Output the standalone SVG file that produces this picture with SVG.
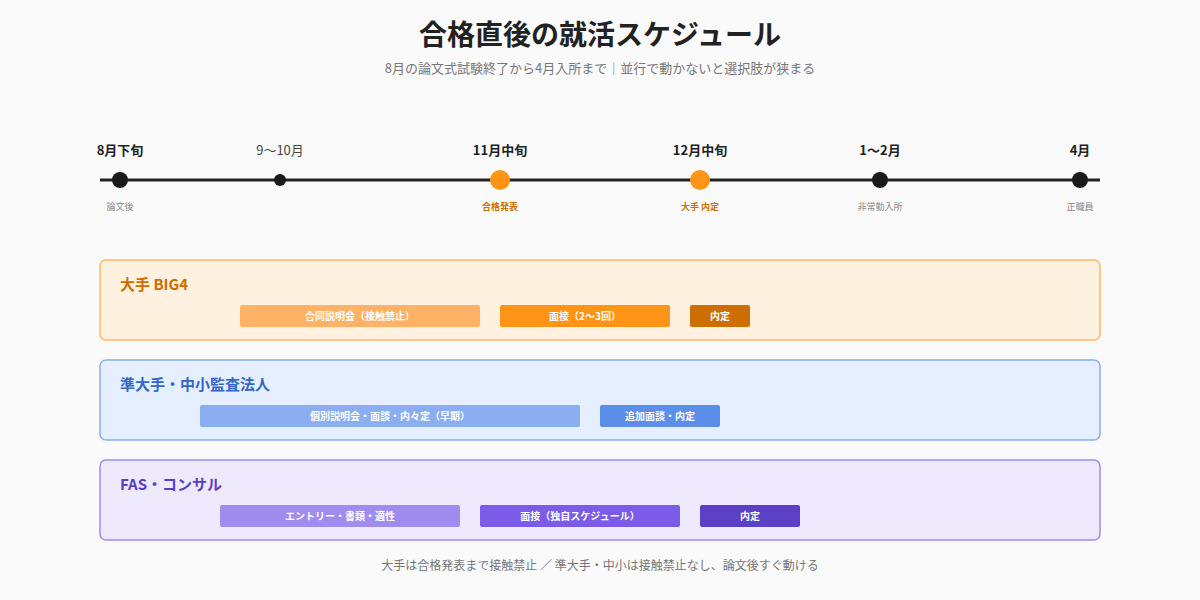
<svg xmlns="http://www.w3.org/2000/svg" width="1200" height="600" viewBox="0 0 1200 600">
<style>
text{font-family:"Noto Sans CJK JP","Noto Sans",sans-serif}
.t{font-size:28px;font-weight:700;fill:#222}
.sub{font-size:13px;fill:#777}
.ft{font-size:12px;fill:#777}
.lb{font-size:13px;font-weight:700;fill:#222}
.ln{font-size:13px;fill:#444}
.sm{font-size:9px;fill:#888}
.smo{font-size:9px;fill:#cc6f00;font-weight:700}
.bar{font-size:10px;fill:#fff;font-weight:700}
.h{font-size:15px;font-weight:700}
</style>
<rect width="1200" height="600" fill="#fafafa"/>
<text class="t" x="600" y="45" text-anchor="middle">合格直後の就活スケジュール</text>
<text class="sub" x="600" y="73" text-anchor="middle">8月の論文式試験終了から4月入所まで｜並行で動かないと選択肢が狭まる</text>
<g id="timeline">
<line x1="100" y1="180" x2="1100" y2="180" stroke="#222" stroke-width="3"/>
<circle cx="120" cy="180" r="8" fill="#1a1a1a"/>
<circle cx="280" cy="180" r="6" fill="#1a1a1a"/>
<circle cx="500" cy="180" r="10" fill="#ff9417"/>
<circle cx="700" cy="180" r="10" fill="#ff9417"/>
<circle cx="880" cy="180" r="8" fill="#1a1a1a"/>
<circle cx="1080" cy="180" r="8" fill="#1a1a1a"/>
<text class="lb" x="120" y="155" text-anchor="middle">8月下旬</text>
<text class="ln" x="280" y="155" text-anchor="middle">9〜10月</text>
<text class="lb" x="500" y="155" text-anchor="middle">11月中旬</text>
<text class="lb" x="700" y="155" text-anchor="middle">12月中旬</text>
<text class="lb" x="880" y="155" text-anchor="middle">1〜2月</text>
<text class="lb" x="1080" y="155" text-anchor="middle">4月</text>
<text class="sm" x="120" y="210" text-anchor="middle">論文後</text>
<text class="smo" x="500" y="210" text-anchor="middle">合格発表</text>
<text class="smo" x="700" y="210" text-anchor="middle">大手 内定</text>
<text class="sm" x="880" y="210" text-anchor="middle">非常勤入所</text>
<text class="sm" x="1080" y="210" text-anchor="middle">正職員</text>
</g>
<g id="big4">
<rect x="100" y="260" width="1000" height="80" rx="6" fill="#fff1e0" stroke="#ffb866" stroke-width="1.5"/>
<text class="h" x="120" y="290" fill="#cc6f00">大手 BIG4</text>
<rect x="240" y="305" width="240" height="22" rx="2" fill="#ffb266"/>
<text class="bar" x="360" y="320" text-anchor="middle">合同説明会（接触禁止）</text>
<rect x="500" y="305" width="170" height="22" rx="2" fill="#ff9417"/>
<text class="bar" x="585" y="320" text-anchor="middle">面接（2〜3回）</text>
<rect x="690" y="305" width="60" height="22" rx="2" fill="#cc6f00"/>
<text class="bar" x="720" y="320" text-anchor="middle">内定</text>
</g>
<g id="mid">
<rect x="100" y="360" width="1000" height="80" rx="6" fill="#e5efff" stroke="#8aaef0" stroke-width="1.5"/>
<text class="h" x="120" y="390" fill="#3566c4">準大手・中小監査法人</text>
<rect x="200" y="405" width="380" height="22" rx="2" fill="#8aaef0"/>
<text class="bar" x="390" y="420" text-anchor="middle">個別説明会・面談・内々定（早期）</text>
<rect x="600" y="405" width="120" height="22" rx="2" fill="#5b8ee8"/>
<text class="bar" x="660" y="420" text-anchor="middle">追加面談・内定</text>
</g>
<g id="fas">
<rect x="100" y="460" width="1000" height="80" rx="6" fill="#efe9fd" stroke="#a48bf0" stroke-width="1.5"/>
<text class="h" x="120" y="490" fill="#5a3fc4">FAS・コンサル</text>
<rect x="220" y="505" width="240" height="22" rx="2" fill="#a08bee"/>
<text class="bar" x="340" y="520" text-anchor="middle">エントリー・書類・適性</text>
<rect x="480" y="505" width="200" height="22" rx="2" fill="#7b5ce8"/>
<text class="bar" x="580" y="520" text-anchor="middle">面接（独自スケジュール）</text>
<rect x="700" y="505" width="100" height="22" rx="2" fill="#5b3fc4"/>
<text class="bar" x="750" y="520" text-anchor="middle">内定</text>
</g>
<g id="connectors"/>
<text class="ft" x="600" y="570" text-anchor="middle">大手は合格発表まで接触禁止 ／ 準大手・中小は接触禁止なし、論文後すぐ動ける</text>
</svg>
